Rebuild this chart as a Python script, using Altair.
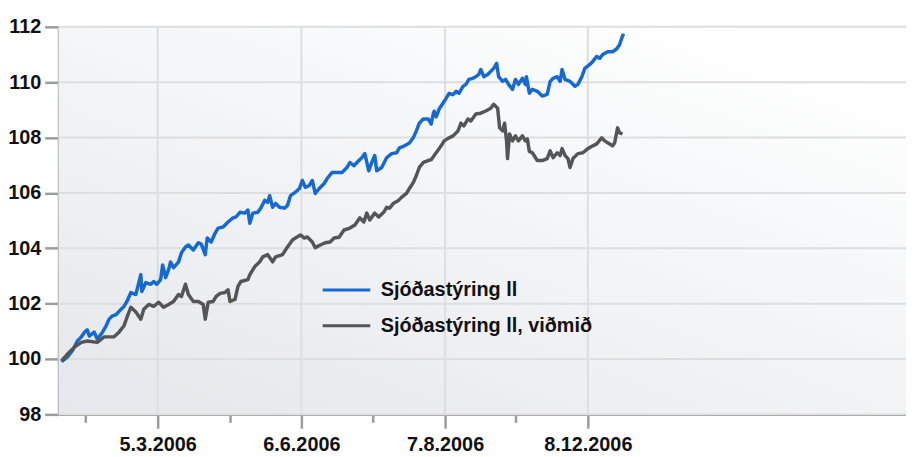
import altair as alt
import pandas as pd

SERIES = ["Sjóðastýring ll", "Sjóðastýring ll, viðmið"]
COLORS = ["#1469d2", "#555555"]

# observation position (trading-day index) and index value
blue_x = [2, 8, 13, 18, 22, 26, 28, 30, 35, 38, 43, 47, 50, 53, 57, 60, 65, 68, 72, 77, 82, 83, 87, 92,
          95, 98, 102, 104, 107, 110, 112, 115, 120, 123, 127, 130, 135, 140, 143, 147, 149, 153, 157,
          160, 165, 170, 175, 178, 182, 187, 190, 192, 195, 200, 203, 207, 210, 212, 215, 218, 222, 227,
          230, 233, 237, 242, 245, 248, 252, 255, 258, 262, 267, 270, 275, 285, 290, 293, 297, 302, 305,
          308, 312, 315, 318, 320, 325, 330, 335, 340, 343, 348, 353, 357, 360, 363, 367, 372, 375, 377,
          378, 380, 383, 388, 393, 397, 400, 403, 407, 410, 413, 417, 420, 423, 425, 428, 432, 435, 438,
          441, 443, 447, 450, 453, 457, 460, 463, 467, 470, 471, 474, 477, 482, 487, 492, 495, 498, 502,
          505, 507, 510, 515, 520, 523, 527, 530, 535, 538, 542, 545, 548, 553, 558, 562, 565, 567, 569]
blue_y = [99.90, 100.08, 100.30, 100.65, 100.80, 101.00, 101.05, 100.83, 100.97, 100.72, 100.95, 101.20,
          101.44, 101.55, 101.60, 101.72, 101.90, 102.08, 102.40, 102.33, 103.05, 102.44, 102.76, 102.70,
          102.80, 102.70, 102.87, 103.40, 102.94, 103.23, 103.50, 103.30, 103.50, 103.84, 104.05, 104.12,
          103.94, 104.20, 104.15, 103.77, 104.37, 104.23, 104.55, 104.73, 104.77, 104.95, 105.10, 105.13,
          105.30, 105.27, 105.38, 104.90, 105.27, 105.30, 105.45, 105.73, 105.66, 105.90, 105.48, 105.62,
          105.48, 105.45, 105.55, 105.90, 106.00, 106.16, 106.45, 106.20, 106.27, 106.45, 105.98, 106.16,
          106.34, 106.52, 106.74, 106.74, 106.92, 107.10, 106.98, 107.17, 107.27, 107.42, 106.80, 107.10,
          107.35, 106.80, 106.92, 107.27, 107.42, 107.45, 107.63, 107.70, 107.80, 108.00, 108.24, 108.52,
          108.67, 108.67, 108.49, 108.85, 108.95, 108.75, 109.03, 109.30, 109.60, 109.55, 109.67, 109.60,
          109.85, 109.92, 110.10, 110.14, 110.20, 110.28, 110.46, 110.20, 110.28, 110.39, 110.50, 110.68,
          110.20, 110.03, 110.10, 109.92, 109.74, 110.10, 109.92, 110.14, 109.92, 110.20, 109.60, 109.74,
          109.67, 109.50, 109.56, 110.03, 110.14, 110.20, 110.03, 110.46, 110.10, 110.03, 109.85, 109.92,
          110.20, 110.50, 110.64, 110.75, 110.93, 110.86, 111.00, 111.10, 111.10, 111.20, 111.35, 111.57,
          111.75]

gray_x = [2, 8, 15, 22, 28, 38, 45, 55, 60, 65, 68, 72, 77, 82, 85, 90, 95, 100, 105, 110, 115, 120, 123,
          127, 130, 135, 140, 145, 147, 150, 155, 158, 162, 167, 170, 172, 177, 180, 183, 190, 192, 197,
          202, 205, 210, 215, 218, 225, 230, 235, 238, 243, 247, 250, 255, 258, 263, 268, 273, 277, 282,
          287, 293, 298, 303, 307, 310, 313, 318, 322, 327, 330, 333, 337, 342, 345, 350, 353, 357, 360,
          363, 367, 372, 375, 378, 382, 385, 388, 393, 397, 402, 405, 408, 412, 415, 420, 425, 430, 435,
          438, 442, 444, 447, 449, 451, 452, 454, 457, 460, 463, 467, 470, 472, 474, 477, 482, 487, 492,
          495, 498, 502, 505, 507, 510, 513, 515, 518, 523, 528, 533, 538, 542, 547, 550, 555, 558, 560,
          563, 565, 568]
gray_y = [99.93, 100.18, 100.43, 100.60, 100.65, 100.60, 100.80, 100.80, 100.97, 101.20, 101.50, 101.87,
          101.70, 101.44, 101.80, 101.97, 101.90, 102.05, 101.87, 101.97, 102.08, 102.33, 102.26, 102.70,
          102.33, 102.08, 102.08, 101.97, 101.44, 102.05, 102.08, 102.26, 102.37, 102.40, 102.50, 102.08,
          102.15, 102.62, 102.80, 102.87, 103.05, 103.34, 103.51, 103.69, 103.77, 103.51, 103.69, 103.77,
          104.05, 104.30, 104.37, 104.48, 104.37, 104.41, 104.23, 104.02, 104.12, 104.20, 104.23, 104.37,
          104.40, 104.66, 104.73, 104.84, 105.10, 104.95, 105.27, 105.02, 105.27, 105.13, 105.30, 105.48,
          105.45, 105.63, 105.73, 105.84, 105.98, 106.16, 106.38, 106.63, 106.92, 107.10, 107.17, 107.20,
          107.35, 107.55, 107.70, 107.88, 107.99, 108.06, 108.24, 108.52, 108.42, 108.67, 108.60, 108.85,
          108.88, 108.96, 109.06, 109.20, 109.06, 108.35, 108.24, 108.52, 107.88, 107.24, 108.13, 107.88,
          108.06, 107.88, 108.06, 107.88, 107.95, 107.50, 107.45, 107.17, 107.17, 107.24, 107.52, 107.27,
          107.45, 107.35, 107.60, 107.35, 107.24, 106.92, 107.24, 107.42, 107.45, 107.60, 107.70, 107.77,
          107.99, 107.88, 107.77, 107.70, 107.80, 108.35, 108.17, 108.13]

x_ticks = [26, 99, 172, 244, 316, 389, 460, 533]
x_tick_labels = ["", "5.3.2006", "", "6.6.2006", "", "7.8.2006", "", "8.12.2006"]
y_ticks = list(range(98, 113))

df = pd.concat([
    pd.DataFrame({"obs": blue_x, "v": blue_y, "series": SERIES[0]}),
    pd.DataFrame({"obs": gray_x, "v": gray_y, "series": SERIES[1]}),
])
x_major = [v for v, l in zip(x_ticks, x_tick_labels) if l]
y_major = [v for v in y_ticks if v % 2 == 0]

W, H = 855, 391
FONT = "Liberation Sans Narrow, Liberation Sans, sans-serif"
AXIS_GRAY = "#9c9c9c"
GRID = "#dedede"

label_expr = "''"
for val, lab in zip(x_ticks, x_tick_labels):
    if lab:
        label_expr = f"datum.value === {val} ? '{lab}' : ({label_expr})"
major_x_test = " || ".join(f"datum.value === {v}" for v in x_major)

x_scale = alt.Scale(domain=[-1, 854], nice=False, zero=False)
y_scale = alt.Scale(domain=[98, 112], nice=False, zero=False)

bg = alt.Chart(pd.DataFrame({"a": [0]})).mark_rect(
    color=alt.Gradient(
        gradient="linear", x1=0, y1=1, x2=0.8, y2=0,
        stops=[alt.GradientStop(color="#e4e7eb", offset=0),
               alt.GradientStop(color="#ffffff", offset=1)],
    )
).encode(x=alt.value(0), x2=alt.value(W), y=alt.value(0), y2=alt.value(H))

hgrid = alt.Chart(pd.DataFrame({"v": y_major})).mark_rule(color=GRID, strokeWidth=2).encode(
    y=alt.Y("v:Q", scale=y_scale))
vgrid = alt.Chart(pd.DataFrame({"obs": x_major})).mark_rule(color=GRID, strokeWidth=2).encode(
    x=alt.X("obs:Q", scale=x_scale))

lines = alt.Chart(df).mark_line(strokeWidth=3.5, strokeJoin="round").encode(
    x=alt.X("obs:Q", scale=x_scale,
            axis=alt.Axis(values=x_ticks, labelExpr=label_expr, title=None, grid=False,
                          tickSize={"condition": {"test": major_x_test, "value": 14}, "value": 8},
                          labelPadding=6)),
    y=alt.Y("v:Q", scale=y_scale,
            axis=alt.Axis(values=y_ticks, title=None, grid=False,
                          labelExpr="datum.value % 2 === 0 ? datum.label : ''",
                          tickSize={"condition": {"test": "datum.value % 2 === 0", "value": 14}, "value": 7},
                          labelPadding=4)),
    color=alt.Color("series:N", scale=alt.Scale(domain=SERIES, range=COLORS),
                    legend=alt.Legend(orient="none", legendX=265, legendY=240, title=None,
                                      symbolType="stroke", symbolSize=2304, symbolStrokeWidth=3,
                                      labelFont=FONT, labelFontSize=20, labelFontWeight="bold",
                                      labelColor="#111111", labelOffset=9, rowPadding=-15,
                                      labelLimit=400)),
)

chart = alt.layer(bg, hgrid, vgrid, lines).properties(
    width=W, height=H,
    autosize=alt.AutoSizeParams(type="none"),
    padding={"left": 51, "top": 17, "right": 0, "bottom": 40},
).configure_view(stroke=None).configure_axis(
    domainColor=AXIS_GRAY, domainWidth=2.5, tickColor=AXIS_GRAY, tickWidth=2.5,
    labelFont=FONT, labelFontSize=20,
    labelFontWeight="bold", labelColor="#111111",
)

chart.save("out.html", embed_options={"renderer": "svg", "actions": False})
